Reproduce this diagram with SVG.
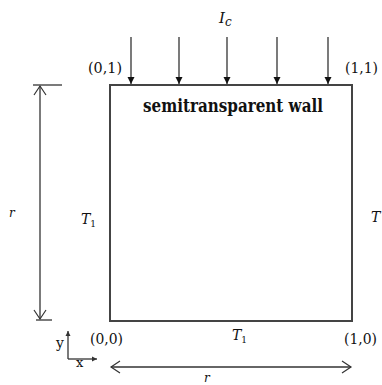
<svg xmlns="http://www.w3.org/2000/svg" width="382" height="385" viewBox="0 0 382 385">
<defs>
<style>
.ln{stroke:#333;stroke-width:1.3;fill:none}
.wall{stroke:#444;stroke-width:2;fill:none}
text{fill:#111}
.lab{font-size:15px}
.it{font-style:italic}
.b{font-weight:bold;font-size:18px}
</style>
<marker id="fa" markerWidth="8" markerHeight="8" refX="7" refY="4" orient="auto" markerUnits="userSpaceOnUse">
<path d="M0,0.5 L7,4 L0,7.5 Z" fill="#111"/>
</marker>
<marker id="oa" markerWidth="12" markerHeight="14" refX="10" refY="7" orient="auto-start-reverse" markerUnits="userSpaceOnUse">
<path d="M1,1 L10,7 L1,13" fill="none" stroke="#333" stroke-width="1.2"/>
</marker>
<marker id="sa" markerWidth="6" markerHeight="6" refX="5" refY="3" orient="auto" markerUnits="userSpaceOnUse">
<path d="M0,0.5 L5,3 L0,5.5 Z" fill="#333"/>
</marker>
</defs>
<g id="wall">
<text class="b" font-family="'DejaVu Serif', serif" x="233" y="112" text-anchor="middle" textLength="180" lengthAdjust="spacingAndGlyphs">semitransparent wall</text>
<rect class="wall" x="110" y="85" width="242" height="236"/>
</g>
<g id="connectors">
<line class="ln" x1="131" y1="37" x2="131" y2="84" marker-end="url(#fa)"/>
<line class="ln" x1="179" y1="37" x2="179" y2="84" marker-end="url(#fa)"/>
<line class="ln" x1="227" y1="37" x2="227" y2="84" marker-end="url(#fa)"/>
<line class="ln" x1="277" y1="37" x2="277" y2="84" marker-end="url(#fa)"/>
<line class="ln" x1="328" y1="37" x2="328" y2="84" marker-end="url(#fa)"/>
<line class="ln" x1="33" y1="85" x2="62" y2="85"/>
<line class="ln" x1="36" y1="320" x2="52" y2="320"/>
<line class="ln" x1="40" y1="86" x2="40" y2="319" marker-start="url(#oa)" marker-end="url(#oa)"/>
<line class="ln" x1="111" y1="367" x2="351" y2="367" marker-start="url(#oa)" marker-end="url(#oa)"/>
<line class="ln" x1="68" y1="359" x2="68" y2="331" marker-end="url(#sa)"/>
<line class="ln" x1="68" y1="359" x2="97" y2="359" marker-end="url(#sa)"/>
</g>
<g id="labels" font-family="'DejaVu Serif', serif">
<text class="it" x="219" y="23" font-size="15">I<tspan font-size="12" dy="3">c</tspan></text>
<text class="lab" x="88" y="73" textLength="34" lengthAdjust="spacingAndGlyphs">(0,1)</text>
<text class="lab" x="345" y="73" textLength="33" lengthAdjust="spacingAndGlyphs">(1,1)</text>
<text class="lab" x="90" y="344" textLength="33" lengthAdjust="spacingAndGlyphs">(0,0)</text>
<text class="lab" x="344" y="344" textLength="33" lengthAdjust="spacingAndGlyphs">(1,0)</text>
<text class="it" x="81" y="224" font-size="14">T<tspan font-size="9" dy="3" font-style="normal">1</tspan></text>
<text class="it" x="232" y="340" font-size="14">T<tspan font-size="9" dy="3" font-style="normal">1</tspan></text>
<text class="it" x="371" y="222" font-size="14">T</text>
<text class="it" x="9" y="217" font-size="12">r</text>
<text class="it" x="204" y="382" font-size="12">r</text>
<text x="56" y="348" font-size="14">y</text>
<text x="76" y="367" font-size="13">x</text>
</g>
</svg>
